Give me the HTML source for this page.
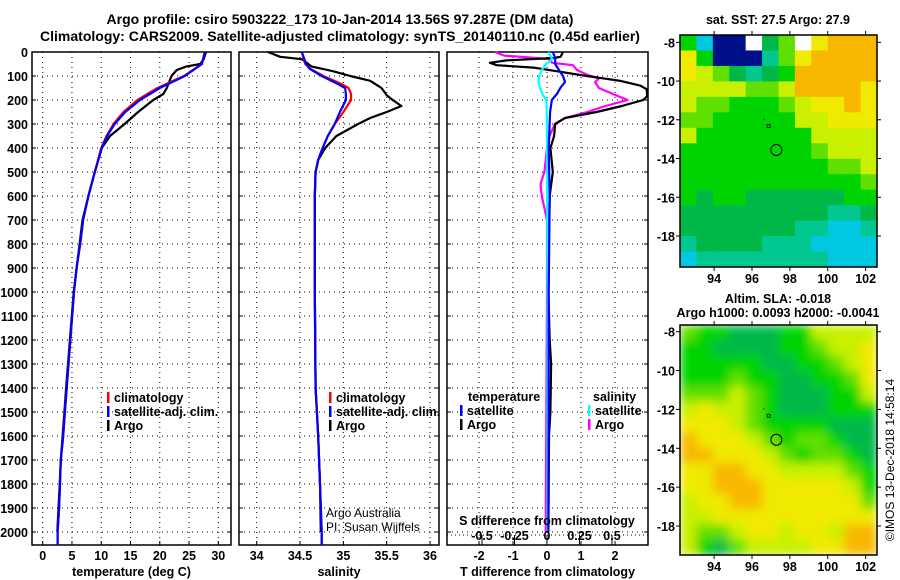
<!DOCTYPE html>
<html><head><meta charset="utf-8"><style>
html,body{margin:0;padding:0;background:#fff;}
svg{display:block;font-family:"Liberation Sans",Arial,sans-serif;}
.b{font-weight:bold;font-size:12.5px;}
</style></head><body>
<svg id="fig" width="900" height="580" viewBox="0 0 900 580" xmlns="http://www.w3.org/2000/svg">
<defs>
<filter id="blur" x="0" y="0" width="1" height="1"><feGaussianBlur stdDeviation="5" edgeMode="duplicate"/></filter>
<clipPath id="clip2"><rect x="680" y="325" width="197" height="230"/></clipPath>
</defs>
<text x="340" y="24" text-anchor="middle" font-size="14" font-weight="bold">Argo profile: csiro 5903222_173 10-Jan-2014 13.56S 97.287E (DM data)</text>
<text x="340" y="41" text-anchor="middle" font-size="14" font-weight="bold">Climatology: CARS2009. Satellite-adjusted climatology: synTS_20140110.nc (0.45d earlier)</text>
<g id="g"></g>
</svg>
<script>
// ---- depth grid & profile data ----
const depthTicks=[0,100,200,300,400,500,600,700,800,900,1000,1100,1200,1300,1400,1500,1600,1700,1800,1900,2000];
const tempTicks=[0,5,10,15,20,25,30];
const salTicks=[34,34.5,35,35.5,36];
const tdiffTicks=[-2,-1,0,1,2];
const sdiffTicks=[-0.5,-0.25,0,0.25,0.5];
const sdiffLabels=["-0.5","-0.25","0","0.25","0.5"];

const tempClimDepth=[0,50,100,150,200,250,300,350,400,500,600,700,800,900,1000,1400,1500,1600,1700,1800,1900,2000,2054];
const tempClim=[27.7,27.2,24.1,19.6,16.2,13.8,12.1,10.9,10.0,8.9,7.8,6.9,6.4,5.8,5.35,4.1,3.8,3.5,3.1,2.95,2.8,2.55,2.55];
const tempSat=[27.7,27.2,24.3,20.0,16.6,14.1,12.3,11.0,10.1,8.9,7.8,6.9,6.4,5.8,5.35,4.1,3.8,3.5,3.1,2.95,2.8,2.55,2.55];
const tempArgoDepth=[0,30,50,60,75,100,150,175,200,250,300,350,400,500,600,700,800,900,1000,1400,1500,1600,1700,1800,1900,2000];
const tempArgo=[27.9,27.5,26.9,24.6,22.9,22.0,21.2,20.6,18.9,16.3,14.0,11.5,10.1,8.9,7.8,6.8,6.3,5.8,5.3,4.0,3.7,3.4,3.1,2.9,2.7,2.5];

const salClimDepth=[0,50,70,100,130,150,175,200,250,300,350,400,450,500,600,1000,1400,1600,1800,2000,2054];
const salClim=[34.52,34.56,34.62,34.77,34.96,35.06,35.09,35.09,35.0,34.9,34.82,34.76,34.71,34.68,34.67,34.67,34.68,34.71,34.73,34.75,34.75];
const salSat=[34.52,34.57,34.61,34.75,34.92,35.02,35.03,35.03,34.96,34.9,34.82,34.76,34.71,34.68,34.67,34.67,34.68,34.71,34.73,34.75,34.75];
const salArgoDepth=[0,10,20,30,40,60,80,100,120,150,180,200,225,250,275,300,350,400,450,500,600,1000,1400,1600,1800,2000];
const salArgo=[34.13,34.2,34.27,34.52,34.56,34.63,34.88,35.08,35.31,35.44,35.5,35.57,35.67,35.5,35.31,35.17,34.92,34.79,34.71,34.68,34.67,34.67,34.68,34.71,34.73,34.74];

const dTDepth=[0,20,25,35,45,55,65,80,100,120,140,155,170,185,200,225,250,275,300,350,400,500,600,800,1000,1200,1300,1500,1600,1800,2000];
const dTArgo=[0.47,0.4,0.2,-1.19,-1.68,-1.48,-0.4,0.28,1.17,2.15,2.74,2.93,2.95,2.95,2.83,2.2,1.46,0.53,0.24,0.21,0.1,0.17,0.08,0.05,0.04,0.08,0.12,0.1,0.06,0.05,0.04];
const dTSatDepth=[0,25,50,70,100,125,150,175,200,250,400,600,1000,1500,2000];
const dTSat=[0.17,0.24,0.24,0.33,0.47,0.53,0.39,0.29,0.14,0.09,0.05,0.08,0.05,0.05,0.04];
const dSSatDepth=[0,30,50,75,100,125,150,180,200,300,500,1000,2000];
const dSSat=[0.01,0.04,-0.008,-0.04,-0.06,-0.065,-0.055,-0.03,-0.005,0,0,0.005,0.005];
const dSArgoDepth=[0,15,25,30,45,55,75,95,110,125,150,180,200,225,250,275,300,350,400,500,550,600,700,1000,2000];
const dSArgo=[-0.4,-0.33,-0.08,0.02,0.04,0.2,0.23,0.31,0.4,0.37,0.4,0.53,0.62,0.45,0.31,0.14,0.06,0.02,0.0,-0.02,-0.05,-0.04,0,0,-0.01];

// ---- map grids (colour index, -1 = missing) ----
const lonTicks=[94,96,98,100,102];
const latTicks=[-8,-10,-12,-14,-16,-18];
const sstGrid=[
[5,2,0,0,-1,4,6,-1,8,9,9,9],
[8,5,0,0,0,3,6,8,9,9,9,9],
[8,7,6,4,3,4,5,9,9,9,9,9],
[7,7,7,7,6,6,7,9,9,9,9,8],
[7,6,6,5,5,5,6,7,8,8,9,8],
[6,6,5,5,5,5,5,7,7,8,8,8],
[7,5,5,5,5,5,5,5,7,7,7,7],
[5,5,5,5,5,5,5,5,6,7,7,7],
[5,5,5,5,5,5,5,5,5,6,6,7],
[5,5,5,5,5,5,5,5,5,5,5,6],
[5,4,5,5,4,4,4,4,4,4,5,5],
[4,4,4,4,4,4,4,4,4,3,3,4],
[4,4,4,4,4,4,4,3,3,2,2,3],
[3,4,4,4,4,3,3,3,2,2,2,2],
[2,3,3,3,3,3,3,3,3,2,2,2]];
const slaGrid=[
[6,5,5,4,4,4,5,5,7,7,7,7],
[5,5,4,4,4,4,5,5,6,7,7,8],
[5,5,5,5,5,4,4,5,5,6,7,8],
[5,5,5,6,5,5,4,4,5,5,6,8],
[6,6,6,7,6,5,4,4,4,5,5,7],
[7,8,7,7,6,5,4,4,4,5,5,5],
[8,8,8,7,6,5,5,5,5,4,4,4],
[9,8,8,8,7,6,5,6,6,5,4,4],
[9,9,8,8,8,7,6,5,6,6,5,4],
[8,8,9,9,8,8,7,7,7,7,6,5],
[8,8,9,9,9,8,8,8,8,8,7,5],
[7,8,8,9,9,8,8,8,8,8,8,6],
[7,7,8,8,8,8,8,8,8,8,8,8],
[7,6,6,7,8,8,7,8,8,7,9,9],
[7,5,4,6,7,7,7,7,8,8,9,9]];
const argoLon=97.287, argoLat=-13.56;

const palette=['#001088','#0060ff','#00c8e0','#00c890','#00b848','#00d400','#60e000','#c8f000','#f0ea00','#f8b800'];
const NS='http://www.w3.org/2000/svg';
const G=document.getElementById('g');
function mk(tag,attrs,parent,txt){const e=document.createElementNS(NS,tag);for(const k in attrs)e.setAttribute(k,attrs[k]);if(txt!==undefined)e.textContent=txt;(parent||G).appendChild(e);return e;}

const TOP=52,BOT=545;
const yD=d=>TOP+d*0.24;
function lin(d0,d1,r0,r1){return v=>r0+(v-d0)*(r1-r0)/(d1-d0);}

const panels=[
 {name:'temperature',x0:32,x1:231,fx:lin(0,30,42.7,218.3),ticks:tempTicks,title:'temperature (deg C)'},
 {name:'salinity',x0:239,x1:439,fx:lin(34,36,256.7,430),ticks:salTicks,title:'salinity'},
 {name:'difference',x0:447,x1:648,fx:lin(0,1,547,581),ticks:tdiffTicks,title:'T difference from climatology'}
];
panels.forEach((p,pi)=>{
 const g=mk('g',{});
 
 
 depthTicks.forEach(d=>{if(d>0){const l=mk('line',{x1:p.x0,x2:p.x1,y1:yD(d),y2:yD(d),stroke:'#000','stroke-width':1,'stroke-dasharray':'1 4'},g);
  }
  mk('line',{x1:p.x0,x2:p.x0+4,y1:yD(d),y2:yD(d),stroke:'#000'},g);
  mk('line',{x1:p.x1,x2:p.x1-4,y1:yD(d),y2:yD(d),stroke:'#000'},g);
 });
 p.ticks.forEach((t,i)=>{const x=p.fx(t);
  const l=mk('line',{x1:x,x2:x,y1:TOP,y2:BOT,stroke:'#000','stroke-width':1,'stroke-dasharray':'1 4'},g);
  
  mk('line',{x1:x,x2:x,y1:BOT,y2:BOT-4,stroke:'#000'},g);
  const tl=mk('text',{x:x,y:560,'text-anchor':'middle',class:'b'},g,String(t));
  
 });
 const tt=mk('text',{x:(p.x0+p.x1)/2,y:576,'text-anchor':'middle',class:'b'},g,p.title);
 
 const fr=mk('rect',{x:p.x0,y:TOP,width:p.x1-p.x0,height:BOT-TOP,fill:'none',stroke:'#000','stroke-width':1.5},g);
 
 p.g=g;
});
depthTicks.forEach(d=>{const t=mk('text',{x:28,y:yD(d)+5,'text-anchor':'end',class:'b'},G,String(d));
 });

function line(p,xs,ds,fx,color,name){
 const pts=xs.map((v,i)=>{let x=fx(v);x=Math.max(p.x0+1,Math.min(p.x1-1,x));return x.toFixed(1)+','+yD(Math.min(ds[i],2054)).toFixed(1);}).join(' ');
 const l=mk('polyline',{points:pts,fill:'none',stroke:color,'stroke-width':2.2,'stroke-linejoin':'round'},p.g);
 
}
const P1=panels[0],P2=panels[1],P3=panels[2];
line(P1,tempArgo,tempArgoDepth,P1.fx,'#000','temp-argo-line');
line(P1,tempClim,tempClimDepth,P1.fx,'#f00','temp-climatology-line');
line(P1,tempSat,tempClimDepth,P1.fx,'#00f','temp-satellite-line');
line(P2,salArgo,salArgoDepth,P2.fx,'#000','salinity-argo-line');
line(P2,salClim,salClimDepth,P2.fx,'#f00','salinity-climatology-line');
line(P2,salSat,salClimDepth,P2.fx,'#00f','salinity-satellite-line');
const fS=lin(0,0.5,547,612);
line(P3,dSArgo,dSArgoDepth,fS,'#f0f','sdiff-argo-line');
line(P3,dTArgo,dTDepth,P3.fx,'#000','tdiff-argo-line');
line(P3,dSSat,dSSatDepth,fS,'#0ff','sdiff-satellite-line');
line(P3,dTSat,dTSatDepth,P3.fx,'#00f','tdiff-satellite-line');

// S diff axis in panel 3
const sax=mk('line',{x1:447,x2:648,y1:535,y2:535,stroke:'#000','stroke-dasharray':'1 3'});

sdiffTicks.forEach((t,i)=>{const x=fS(t);mk('line',{x1:x,x2:x,y1:535,y2:545,stroke:'#000'});
 const tl=mk('text',{x:x,y:540,'text-anchor':'middle',class:'b'},G,sdiffLabels[i]);
 });
{const t=mk('text',{x:547,y:525,'text-anchor':'middle',class:'b'},G,'S difference from climatology');
 }

// legends
function leg(x,y,color,label,name){const g=mk('g',{});
 
 mk('rect',{x:x,y:y-10,width:2.5,height:11,fill:color},g);
 mk('text',{x:x+7,y:y,class:'b'},g,label);}
leg(107,402,'#f00','climatology','legend-climatology-temp');
leg(107,416,'#00f','satellite-adj. clim.','legend-satellite-temp');
leg(107,430,'#000','Argo','legend-argo-temp');
leg(329,402,'#f00','climatology','legend-climatology-sal');
leg(329,416,'#00f','satellite-adj. clim.','legend-satellite-sal');
leg(329,430,'#000','Argo','legend-argo-sal');
{const t=mk('text',{x:468,y:401,class:'b'},G,'temperature');}
{const t=mk('text',{x:593,y:401,class:'b'},G,'salinity');}
leg(460,415,'#00f','satellite','legend-tdiff-satellite');
leg(460,429,'#000','Argo','legend-tdiff-argo');
leg(588,415,'#0ff','satellite','legend-sdiff-satellite');
leg(588,429,'#f0f','Argo','legend-sdiff-argo');
{const t=mk('text',{x:326,y:517,'font-size':12},G,'Argo Australia');}
{const t=mk('text',{x:326,y:531,'font-size':12},G,'PI: Susan Wijffels');}

// maps
function drawMap(grid,top,bot,y8,y18,name,lblY,smooth){
 const L=680,R=877,fx=lin(92.2,102.6,L,R),fy=lin(-8,-18,y8,y18);
 const g=mk('g',{});
 const cg=mk('g',smooth?{'clip-path':'url(#clip2)'}:{},g);
 const inner=mk('g',smooth?{filter:'url(#blur)'}:{},cg);
 const nr=grid.length,nc=grid[0].length,cw=(R-L)/nc,ch=(bot-top)/nr;
 grid.forEach((row,r)=>row.forEach((v,c)=>{
  const cell=mk('rect',{x:L+c*cw,y:top+r*ch,width:cw+0.6,height:ch+0.6,fill:v<0?'#fff':palette[v]},inner);
  
 }));
 mk('rect',{x:L,y:top,width:R-L,height:bot-top,fill:'none',stroke:'#000','stroke-width':1.5},g);
 lonTicks.forEach(t=>{const x=fx(t);mk('line',{x1:x,x2:x,y1:top,y2:top-4,stroke:'#000'},g);mk('line',{x1:x,x2:x,y1:bot,y2:bot+4,stroke:'#000'},g);
  const tl=mk('text',{x:x,y:lblY,'text-anchor':'middle',class:'b'},g,String(t));});
 latTicks.forEach(t=>{const y=fy(t);mk('line',{x1:L,x2:L-4,y1:y,y2:y,stroke:'#000'},g);mk('line',{x1:R,x2:R+4,y1:y,y2:y,stroke:'#000'},g);
  const tl=mk('text',{x:675,y:y+5,'text-anchor':'end',class:'b'},g,String(t));});
 const m=mk('circle',{cx:fx(argoLon),cy:fy(argoLat),r:5.5,fill:'none',stroke:'#000','stroke-width':1},g);
 
 mk('rect',{x:fx(96.6),y:fy(-11.95),width:1,height:1,fill:'#000'},g);
 mk('rect',{x:fx(96.85)-1,y:fy(-12.3)-1,width:3,height:3,fill:'none',stroke:'#000','stroke-width':0.8},g);
}
drawMap(sstGrid,35,267,42.3,236,'sst-map',283,false);
drawMap(slaGrid,325,555,331.7,526,'sla-map',571,true);
{const t=mk('text',{x:778,y:24,'text-anchor':'middle',class:'b'},G,'sat. SST: 27.5 Argo: 27.9');}
{const t=mk('text',{x:778,y:303,'text-anchor':'middle',class:'b'},G,'Altim. SLA: -0.018');}
{const t=mk('text',{x:778,y:317,'text-anchor':'middle',class:'b'},G,'Argo h1000: 0.0093 h2000: -0.0041');}
{const t=mk('text',{x:0,y:0,'text-anchor':'middle','font-size':12,transform:'translate(894,460) rotate(-90)'},G,'©IMOS 13-Dec-2018 14:58:14');}
</script>
</body></html>
